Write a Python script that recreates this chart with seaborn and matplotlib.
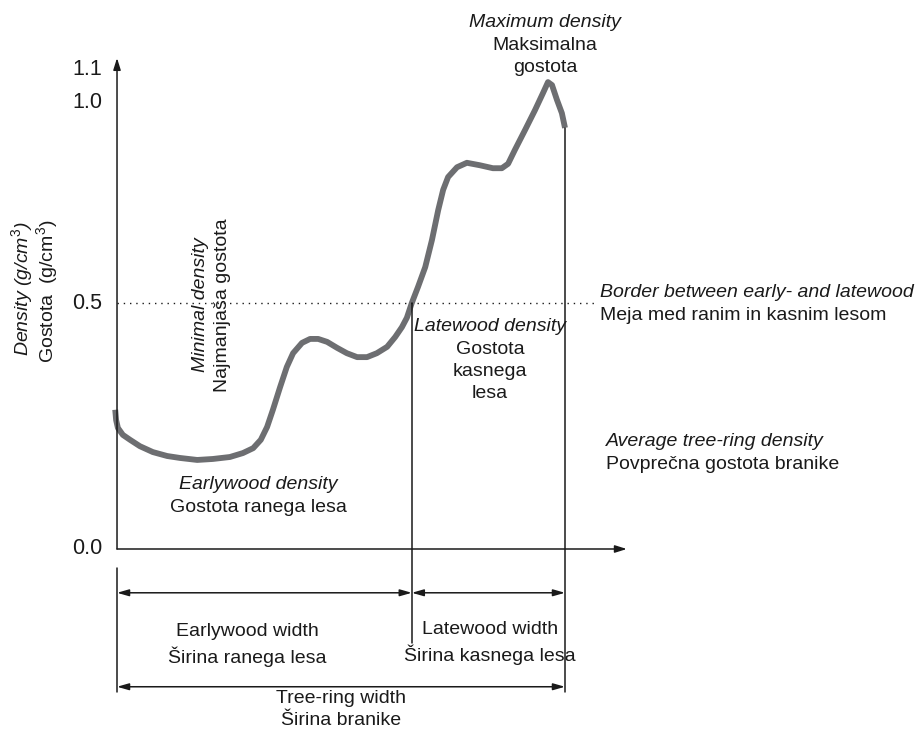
import matplotlib
matplotlib.use("Agg")
import matplotlib.pyplot as plt
import numpy as np
import pandas as pd
import seaborn as sns

# 年轮密度曲线（示意图）
# x: 年轮内相对位置 (0 = 年轮起点, 1 = 年轮终点)
ring_pos = [-0.004, -0.002, 0.002, 0.013, 0.029, 0.051, 0.080, 0.112, 0.141, 0.179,
            0.214, 0.252, 0.281, 0.304, 0.321, 0.335, 0.348, 0.364, 0.379, 0.393,
            0.413, 0.431, 0.449, 0.469, 0.491, 0.513, 0.536, 0.558, 0.580, 0.603,
            0.621, 0.636, 0.647, 0.658, 0.672, 0.688, 0.703, 0.717, 0.728, 0.739,
            0.759, 0.781, 0.810, 0.839, 0.859, 0.873, 0.888, 0.911, 0.933, 0.951,
            0.962, 0.971, 0.982, 0.993, 1.000]
density = [0.283, 0.262, 0.246, 0.232, 0.222, 0.209, 0.197, 0.189, 0.185, 0.181,
           0.183, 0.187, 0.195, 0.205, 0.222, 0.248, 0.283, 0.329, 0.370, 0.398,
           0.419, 0.427, 0.427, 0.421, 0.409, 0.398, 0.390, 0.390, 0.398, 0.411,
           0.431, 0.451, 0.470, 0.500, 0.533, 0.573, 0.628, 0.689, 0.730, 0.756,
           0.776, 0.785, 0.780, 0.774, 0.774, 0.783, 0.811, 0.852, 0.892, 0.927,
           0.949, 0.943, 0.913, 0.886, 0.856]

border_density = 0.5
latewood_start = 0.658
ring_end = 1.0

ytick_pos = [0.0, 0.5, 0.907, 0.974]
ytick_labels = ["0.0", "0.5", "1.0", "1.1"]

sns.set_style("white")
plt.rcParams['font.family'] = ['Liberation Sans', 'DejaVu Sans']
plt.rcParams['mathtext.fontset'] = 'custom'
plt.rcParams['mathtext.rm'] = 'Liberation Sans'
plt.rcParams['mathtext.it'] = 'Liberation Sans:italic'

fig = plt.figure(figsize=(9.19, 7.33), dpi=100)
ax = fig.add_axes([0, 0, 1, 1])
ax.set_xlim(-0.2612, 1.7902)
ax.set_ylim(-0.374, 1.1159)
ax.axis('off')

df = pd.DataFrame({'pos': ring_pos, 'density': density})
sns.lineplot(data=df, x='pos', y='density', ax=ax, sort=False,
             color='#6d6e71', linewidth=4.2, solid_capstyle='butt',
             solid_joinstyle='round')

black = '#1a1a1a'
fs = 14
ls = 1.37

# 坐标轴箭头
arrow = dict(arrowstyle='-|>,head_length=0.7,head_width=0.22', color=black,
             lw=1.1, shrinkA=0, shrinkB=0)
ax.annotate('', xy=(0, 0.998), xytext=(0, 0), arrowprops=arrow)
ax.annotate('', xy=(1.138, 0), xytext=(0, 0), arrowprops=arrow)

# 早晚材分界线
ax.plot([0, 1.071], [border_density, border_density], color=black, lw=1.0,
        linestyle=(0, (1, 3.5)))

# 竖线
ax.plot([latewood_start, latewood_start], [border_density, -0.191], color=black, lw=1.1)
ax.plot([ring_end, ring_end], [density[-1], -0.291], color=black, lw=1.1)
ax.plot([0, 0], [-0.039, -0.291], color=black, lw=1.1)

# 宽度双箭头
darrow = dict(arrowstyle='<|-|>,head_length=0.7,head_width=0.2', color=black,
              lw=1.1, shrinkA=0, shrinkB=0)
ax.annotate('', xy=(latewood_start, -0.089), xytext=(0, -0.089), arrowprops=darrow)
ax.annotate('', xy=(ring_end, -0.089), xytext=(latewood_start, -0.089), arrowprops=darrow)
ax.annotate('', xy=(ring_end, -0.280), xytext=(0, -0.280), arrowprops=darrow)

# 刻度标签
for p, lab in zip(ytick_pos, ytick_labels):
    ax.text(-0.033, p, lab, ha='right', va='center', fontsize=15.5, color=black)

# 纵轴标题
ax.text(-0.212, 0.530, 'Density (g/cm$^3$)', rotation=90, style='italic',
        ha='center', va='center', fontsize=fs, color=black)
ax.text(-0.156, 0.524, 'Gostota  (g/cm$^3$)', rotation=90,
        ha='center', va='center', fontsize=fs, color=black)


def two_lang(x, y, it_text, txt, ha='center', rot=0):
    # 第一行斜体（英文），其余为斯洛文尼亚文
    n = txt.count('\n') + 1
    lh = 0.0455
    if rot == 0:
        ax.text(x, y + lh * n / 2, it_text, style='italic', ha=ha, va='center',
                fontsize=fs, color=black)
        ax.text(x, y - lh / 2, txt, ha=ha, va='center', fontsize=fs,
                color=black, linespacing=ls)
    else:
        dx = 0.0491 / 2
        ax.text(x - dx, y, it_text, style='italic', ha='center', va='center',
                fontsize=fs, color=black, rotation=90)
        ax.text(x + dx, y, txt, ha='center', va='center', fontsize=fs,
                color=black, rotation=90)


two_lang(0.955, 1.024, 'Maximum density', 'Maksimalna\ngostota')
two_lang(1.078, 0.498, 'Border between early- and latewood',
         'Meja med ranim in kasnim lesom', ha='left')
two_lang(0.833, 0.384, 'Latewood density', 'Gostota\nkasnega\nlesa')
two_lang(1.092, 0.195, 'Average tree-ring density', 'Povprečna gostota branike',
         ha='left')
two_lang(0.315, 0.108, 'Earlywood density', 'Gostota ranega lesa')
two_lang(0.210, 0.496, 'Minimal density', 'Najmanjaša gostota', rot=90)

ax.text(0.290, -0.195, 'Earlywood width\nŠirina ranega lesa', ha='center',
        va='center', fontsize=fs, color=black, linespacing=ls)
ax.text(0.833, -0.191, 'Latewood width\nŠirina kasnega lesa', ha='center',
        va='center', fontsize=fs, color=black, linespacing=ls)
ax.text(0.5, -0.327, 'Tree-ring width\nŠirina branike', ha='center',
        va='center', fontsize=fs, color=black, linespacing=ls)

fig.savefig('out.png', dpi=100)
